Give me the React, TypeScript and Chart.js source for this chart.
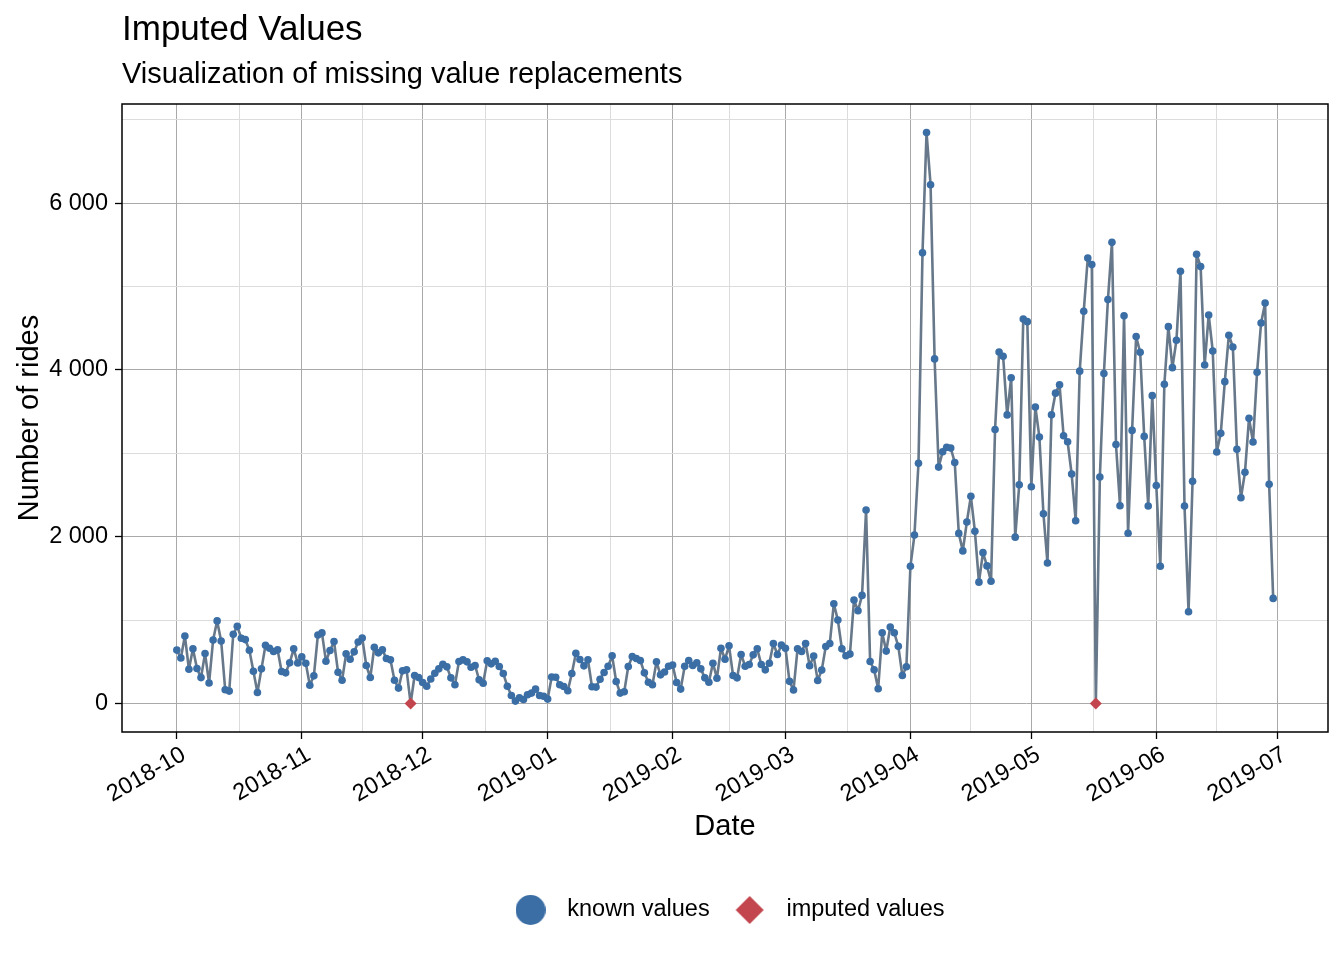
import React, { useEffect, useRef } from 'react';
import { Chart, registerables } from 'chart.js';

Chart.register(...registerables);

// ---------- data ----------
const startDate = '2018-10-01';

const ridesOct2018 = [640, 545, 810, 410, 655, 420, 310, 600, 245, 760, 990, 750, 165, 148, 830, 925, 782, 766, 638, 387, 132, 415, 698, 662, 623, 643, 383, 367, 487, 655, 485];
const ridesNov2018 = [560, 483, 219, 331, 822, 846, 507, 635, 743, 375, 279, 595, 531, 619, 738, 786, 455, 311, 675, 607, 643, 539, 523, 279, 184, 391, 403, null, 335, 310];
const ridesDec2018 = [252, 207, 293, 363, 415, 471, 439, 307, 224, 503, 523, 499, 435, 455, 283, 243, 511, 475, 507, 443, 359, 207, 96, 28, 68, 48, 104, 124, 172, 96, 86];
const ridesJan2019 = [52, 317, 315, 224, 204, 152, 359, 603, 527, 451, 523, 200, 196, 291, 371, 447, 571, 263, 124, 140, 443, 563, 539, 515, 367, 255, 224, 499, 343, 377, 447];
const ridesFeb2019 = [460, 251, 172, 447, 515, 455, 487, 415, 307, 255, 483, 303, 662, 531, 691, 335, 307, 587, 447, 467, 583, 655, 467, 403, 483, 719, 587, 700];
const ridesMar2019 = [662, 265, 162, 656, 624, 720, 452, 568, 276, 400, 684, 720, 1196, 1000, 656, 572, 592, 1240, 1112, 1296, 2320, 504, 404, 176, 848, 628, 916, 848, 685, 335, 440];
const ridesApr2019 = [1645, 2020, 2880, 5405, 6848, 6222, 4133, 2835, 3019, 3074, 3065, 2890, 2040, 1830, 2177, 2485, 2065, 1455, 1809, 1650, 1465, 3286, 4215, 4165, 3461, 3907, 1995, 2623, 4610, 4580];
const ridesMay2019 = [2600, 3556, 3195, 2276, 1685, 3462, 3722, 3822, 3211, 3139, 2752, 2192, 3986, 4704, 5343, 5264, null, 2716, 3958, 4844, 5531, 3107, 2372, 4649, 2041, 3275, 4401, 4213, 3203, 2368, 3692];
const ridesJun2019 = [2614, 1645, 3828, 4520, 4028, 4356, 5184, 2368, 1100, 2664, 5388, 5240, 4060, 4660, 4228, 3016, 3240, 3860, 4416, 4276, 3048, 2468, 2772, 3420, 3136, 3972, 4564, 4804, 2628, 1260];

const imputedDates = ['2018-11-28', '2019-05-17'];
const imputedValues = [0, 0];

const monthBreaks = ['2018-10', '2018-11', '2018-12', '2019-01', '2019-02', '2019-03', '2019-04', '2019-05', '2019-06', '2019-07'];
const yBreaks = [0, 2000, 4000, 6000];
const seriesLabels = ['known values', 'imputed values'];

// ---------- derived ----------
const DAY_MS = 86400000;
const dayOf = (iso: string) => Math.round((Date.parse(iso) - Date.parse(startDate)) / DAY_MS);

const allRides: (number | null)[] = [
  ...ridesOct2018, ...ridesNov2018, ...ridesDec2018, ...ridesJan2019, ...ridesFeb2019,
  ...ridesMar2019, ...ridesApr2019, ...ridesMay2019, ...ridesJun2019,
];

const imputedDays = imputedDates.map(dayOf);
const knownPoints = allRides
  .map((v, i) => (v === null ? null : { x: i, y: v }))
  .filter((p) => p !== null) as { x: number; y: number }[];
const imputedPoints = imputedDays.map((d, k) => ({ x: d, y: imputedValues[k] }));
const linePoints = allRides.map((v, i) => {
  if (v !== null) return { x: i, y: v };
  const k = imputedDays.indexOf(i);
  return { x: i, y: imputedValues[k] };
});

const xDataMax = allRides.length - 1;
const xPad = xDataMax * 0.05;
const xMin = -xPad;
const xMax = xDataMax + xPad;
const yDataMax = Math.max(...linePoints.map((p) => p.y));
const yPad = yDataMax * 0.05;
const yMin = -yPad;
const yMax = yDataMax + yPad;

const xMajor = monthBreaks.map((m) => dayOf(m));
const xMinor = xMajor.slice(0, -1).map((v, i) => (v + xMajor[i + 1]) / 2);
const xMajorSet = new Set(xMajor);
const xLabelMap = new Map(monthBreaks.map((m, i) => [xMajor[i], m]));
const xTickValues = [...xMajor, ...xMinor].filter((v) => v >= xMin && v <= xMax).sort((a, b) => a - b);

const yStep = yBreaks[1] - yBreaks[0];
const yMinor = [yBreaks[0] - yStep / 2, ...yBreaks.map((v) => v + yStep / 2)];
const yMajorSet = new Set(yBreaks);
const yTickValues = [...yBreaks, ...yMinor].filter((v) => v >= yMin && v <= yMax).sort((a, b) => a - b);

const fmtThousands = (v: number) => String(v).replace(/\B(?=(\d{3})+(?!\d))/g, ' ');

// ---------- styles ----------
const FONT = "'Liberation Sans', Arial, Helvetica, sans-serif";
const LINE_COLOR = '#66788a';
const KNOWN_COLOR = '#3a6ea5';
const IMPUTED_COLOR = '#c3464e';
const GRID_MAJOR = '#a9a9a9';
const GRID_MINOR = '#dcdcdc';

function makeLegendIcon(kind: 'circle' | 'diamond', color: string) {
  const c = document.createElement('canvas');
  c.width = 30;
  c.height = 30;
  const g = c.getContext('2d')!;
  g.fillStyle = color;
  g.beginPath();
  if (kind === 'circle') {
    g.arc(15, 15, 15, 0, Math.PI * 2);
  } else {
    g.moveTo(15, 1);
    g.lineTo(29, 15);
    g.lineTo(15, 29);
    g.lineTo(1, 15);
    g.closePath();
  }
  g.fill();
  return c;
}

const panelBorder = {
  id: 'panelBorder',
  afterDraw(chart: any) {
    const { ctx, chartArea: a } = chart;
    ctx.save();
    ctx.strokeStyle = '#000';
    ctx.lineWidth = 1.5;
    ctx.strokeRect(a.left, a.top, a.right - a.left, a.bottom - a.top);
    ctx.restore();
  },
};

export default function App() {
  const canvasRef = useRef<HTMLCanvasElement | null>(null);

  useEffect(() => {
    document.body.style.margin = '0';
    const canvas = canvasRef.current;
    if (!canvas) return;
    const circleIcon = makeLegendIcon('circle', KNOWN_COLOR);
    const diamondIcon = makeLegendIcon('diamond', IMPUTED_COLOR);

    Chart.defaults.font.family = FONT;

    const chart = new Chart(canvas, {
      type: 'line',
      data: {
        datasets: [
          {
            label: 'line',
            data: linePoints,
            showLine: true,
            borderColor: LINE_COLOR,
            borderWidth: 2.6,
            borderJoinStyle: 'round',
            borderCapStyle: 'round',
            pointRadius: 0,
            pointHoverRadius: 0,
            fill: false,
            tension: 0,
            order: 3,
          },
          {
            label: seriesLabels[0],
            data: knownPoints,
            showLine: false,
            pointStyle: 'circle',
            pointRadius: 3.8,
            pointBorderWidth: 0,
            borderWidth: 0,
            backgroundColor: KNOWN_COLOR,
            borderColor: KNOWN_COLOR,
            order: 2,
          },
          {
            label: seriesLabels[1],
            data: imputedPoints,
            showLine: false,
            pointStyle: 'rectRot',
            pointRadius: 6,
            pointBorderWidth: 0,
            borderWidth: 0,
            backgroundColor: IMPUTED_COLOR,
            borderColor: IMPUTED_COLOR,
            order: 1,
          },
        ],
      } as any,
      options: {
        responsive: false,
        animation: false,
        events: [],
        layout: { padding: { left: 0, right: 16, top: 0, bottom: 28.25 } },
        plugins: {
          tooltip: { enabled: false },
          title: {
            display: true,
            text: 'Imputed Values',
            align: 'start',
            fullSize: false,
            color: '#000',
            font: { size: 35, weight: 'normal', family: FONT },
            padding: { top: 9, bottom: 0 },
          },
          subtitle: {
            display: true,
            text: 'Visualization of missing value replacements',
            align: 'start',
            fullSize: false,
            color: '#000',
            font: { size: 29, weight: 'normal', family: FONT },
            padding: { top: 6.6, bottom: 11.6 },
          },
          legend: {
            display: true,
            position: 'bottom',
            fullSize: false,
            labels: {
              usePointStyle: true,
              pointStyleWidth: 50,
              padding: 15,
              color: '#000',
              font: { size: 23.5, family: FONT },
              filter: (item: any) => item.datasetIndex !== 0,
              sort: (a: any, b: any) => a.datasetIndex - b.datasetIndex,
              generateLabels: (ch: any) =>
                (Chart.defaults.plugins.legend.labels.generateLabels as any)(ch).map((item: any) => ({
                  ...item,
                  pointStyle: item.datasetIndex === 2 ? diamondIcon : circleIcon,
                })),
            },
          },
        },
        scales: {
          x: {
            type: 'linear',
            min: xMin,
            max: xMax,
            afterBuildTicks: (s: any) => {
              s.ticks = xTickValues.map((v) => ({ value: v }));
            },
            afterFit: (s: any) => {
              s.height = 151.25;
            },
            ticks: {
              autoSkip: false,
              minRotation: 30,
              maxRotation: 30,
              padding: 2,
              labelOffset: 7,
              color: '#000',
              font: { size: 23.5, family: FONT },
              callback: (v: any) => xLabelMap.get(v) ?? '',
            },
            grid: {
              color: (c: any) => (c.tick && xMajorSet.has(c.tick.value) ? GRID_MAJOR : GRID_MINOR),
              lineWidth: 1,
              tickLength: 7,
              tickWidth: 1.3,
              tickColor: (c: any) => (c.tick && xMajorSet.has(c.tick.value) ? '#000' : 'rgba(0,0,0,0)'),
            },
            border: { display: false },
            title: {
              display: true,
              text: 'Date',
              color: '#000',
              font: { size: 29, family: FONT },
              padding: { top: 0, bottom: 38.85 },
            },
          },
          y: {
            type: 'linear',
            min: yMin,
            max: yMax,
            afterBuildTicks: (s: any) => {
              s.ticks = yTickValues.map((v) => ({ value: v }));
            },
            afterFit: (s: any) => {
              s.width = 122;
            },
            ticks: {
              padding: 7,
              color: '#000',
              font: { size: 23.5, family: FONT },
              callback: (v: any) => (yMajorSet.has(v) ? fmtThousands(v) : ''),
            },
            grid: {
              color: (c: any) => (c.tick && yMajorSet.has(c.tick.value) ? GRID_MAJOR : GRID_MINOR),
              lineWidth: 1,
              tickLength: 7,
              tickWidth: 1.3,
              tickColor: (c: any) => (c.tick && yMajorSet.has(c.tick.value) ? '#000' : 'rgba(0,0,0,0)'),
            },
            border: { display: false },
            title: {
              display: true,
              text: 'Number of rides',
              color: '#000',
              font: { size: 29, family: FONT },
              padding: { top: 12.6, bottom: 0 },
            },
          },
        },
      } as any,
      plugins: [panelBorder],
    });

    return () => {
      chart.destroy();
    };
  }, []);

  return (
    <div style={{ width: 1344, height: 960, position: 'relative', background: '#fff' }}>
      <canvas ref={canvasRef} width={1344} height={960} style={{ width: 1344, height: 960, display: 'block' }} />
    </div>
  );
}
